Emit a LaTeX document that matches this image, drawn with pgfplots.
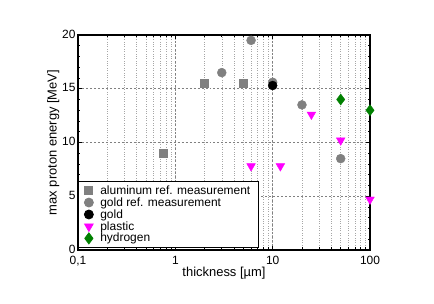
\documentclass[border=0pt]{standalone}
\usepackage{pgfplots}
\pgfplotsset{compat=1.18}
\usepackage{fontspec}
\setmainfont{Liberation Sans}
\definecolor{mgray}{RGB}{128,128,128}
\definecolor{mmag}{RGB}{255,0,255}
\definecolor{mgreen}{RGB}{0,128,0}
\begin{document}
\begin{tikzpicture}[x=1bp,y=1bp]
\begin{axis}[
  scale only axis, width=292bp, height=215bp,
  xmode=log, xmin=0.1, xmax=100, ymin=0, ymax=20,
  xtick={0.1,1,10,100}, xticklabels={{0,1},1,10,100},
  ytick={0,5,10,15,20},
  minor ytick={1,2,3,4,6,7,8,9,11,12,13,14,16,17,18,19},
  tick align=inside, major tick length=4bp, minor tick length=2.5bp,
  every tick/.style={black, line width=0.6pt},
  axis line style={line width=1.2pt},
  xmajorgrids, ymajorgrids, xminorgrids,
  major grid style={dash pattern=on 2pt off 2pt, gray, line width=0.5pt},
  minor grid style={dotted, gray!70, line width=0.5pt},
  tick label style={font=\fontsize{12}{13}\selectfont},
  xticklabel style={yshift=-3bp},
  yticklabel style={xshift=1bp, yshift=1bp},
  /pgf/number format/assume math mode=true,
  xlabel={thickness [µm]}, ylabel={max proton energy [MeV]},
  label style={font=\fontsize{13}{15}\selectfont},
  xlabel style={yshift=6bp},
  ylabel style={yshift=-4bp},
  legend style={at={(0,0.01)}, anchor=south west, draw=black, line width=0.8pt,
    font=\fontsize{12}{13}\selectfont, row sep=-2.2pt, inner xsep=6pt, inner ysep=2pt,
    /tikz/every odd column/.append style={column sep=5pt}},
  legend cell align=left,
  clip=false,
]
\addplot[only marks, mark=square*, mark size=4bp, color=mgray] coordinates {(0.75,9) (2,15.5) (5,15.5)};
\addlegendentry{aluminum ref. measurement}
\addplot[only marks, mark=*, mark size=4.5bp, color=mgray] coordinates {(3,16.5) (6,19.5) (10,15.6) (20,13.5) (50,8.5)};
\addlegendentry{gold ref. measurement}
\addplot[only marks, mark=*, mark size=4.5bp, color=black] coordinates {(10,15.3)};
\addlegendentry{gold}
\addplot[only marks, mark=triangle*, mark size=5bp, mark options={rotate=180}, color=mmag] coordinates {(6,7.8) (12,7.8) (25,12.6) (50,10.2) (100,4.7)};
\addlegendentry{plastic}
\addplot[only marks, mark=diamond*, mark size=5.5bp, color=mgreen] coordinates {(50,14) (100,13)};
\addlegendentry{hydrogen}
\end{axis}
\useasboundingbox ([xshift=-78bp,yshift=-54bp]current axis.south west) rectangle ([xshift=64bp,yshift=35bp]current axis.north east);
\end{tikzpicture}
\end{document}
